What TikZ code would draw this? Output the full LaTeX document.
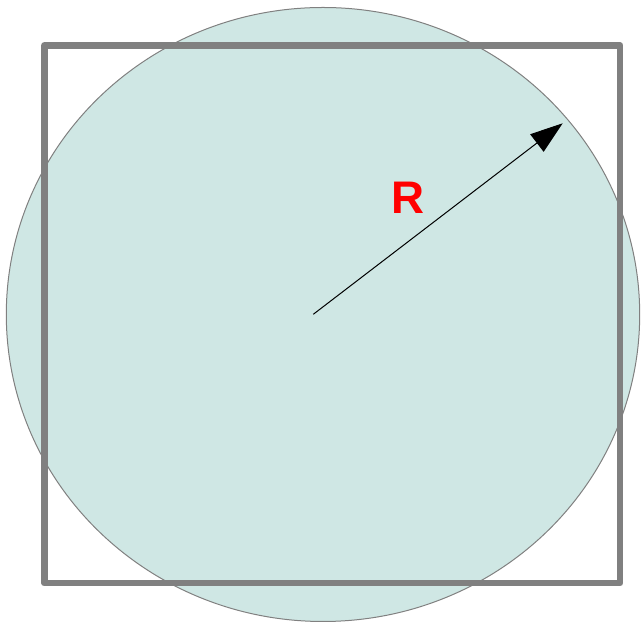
\documentclass[tikz,border=0pt]{standalone}
\usepackage{fontspec}
\setsansfont{Liberation Sans}
\usepackage{tikz}
\usepackage{xcolor}
\usetikzlibrary{arrows.meta}
\definecolor{circfill}{RGB}{207,231,228}
\definecolor{framegray}{RGB}{128,128,128}

\begin{document}
\begin{tikzpicture}[font=\sffamily\bfseries]
  \useasboundingbox (0,0) rectangle (12.86,12.5);
  \draw[framegray, line width=0.57pt, fill=circfill] (6.46,6.21) ellipse [x radius=6.334, y radius=6.14];
  \draw[framegray, line width=3.9pt, line join=round] (0.89,0.84) rectangle (12.4,11.59);
  \coordinate (centre) at (6.266,6.214);
  \coordinate (rim) at (11.254,10.034);
  \draw[-{Triangle[length=18.5pt, width=12.5pt]}, line width=0.57pt] (centre) -- (rim);
  \node[text=red, font=\sffamily\bfseries\fontsize{26}{30}\selectfont, inner sep=0pt] (radius) at (8.15,8.554) {R};
\end{tikzpicture}
\end{document}
